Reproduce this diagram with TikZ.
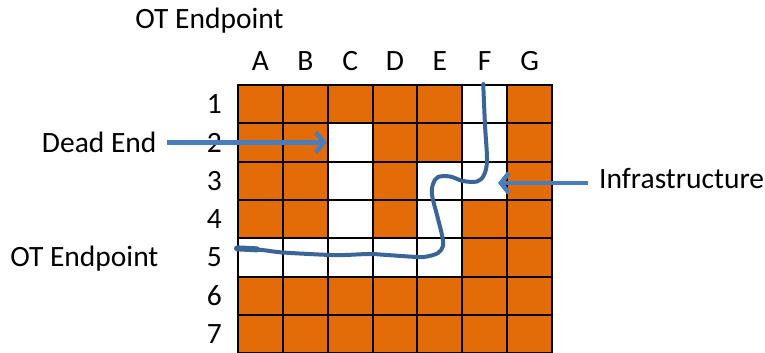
\documentclass[tikz,border=0pt]{standalone}
\usepackage{fontspec}
\setmainfont{Carlito}
\usetikzlibrary{arrows.meta,positioning}
\definecolor{gridorange}{HTML}{E36C09}
\definecolor{arrowblue}{HTML}{4A7EBB}
\definecolor{routeblue}{HTML}{3B6597}
\tikzset{
  open F1/.style={fill=white}, open F2/.style={fill=white}, open C2/.style={fill=white},
  open C3/.style={fill=white}, open E3/.style={fill=white}, open F3/.style={fill=white},
  open C4/.style={fill=white}, open E4/.style={fill=white},
  open A5/.style={fill=white}, open B5/.style={fill=white}, open C5/.style={fill=white},
  open D5/.style={fill=white}, open E5/.style={fill=white}
}

\begin{document}
\begin{tikzpicture}[x=1pt,y=-1pt,
    font=\fontsize{29.5}{34}\selectfont,
    cell/.style={draw=black, line width=2pt, fill=gridorange,
      minimum width=44.86pt, minimum height=38.3pt, inner sep=0pt},
    lbl/.style={inner sep=0pt},
    pointer/.style={draw=arrowblue, line width=4.5pt,
      -{Straight Barb[length=8pt,width=20pt]}},
    route/.style={draw=routeblue, line width=4pt, line cap=round, line join=round}]
    \useasboundingbox (0,0) rectangle (765,353);

    \foreach \c [count=\i from 0] in {A,B,C,D,E,F,G}
      \foreach \r in {1,...,7}
        \node[cell, open \c\r/.try] (\c\r) at ({238+44.86*(\i+0.5)},{85+38.3*(\r-0.5)}) {};
    \foreach \c in {A,B,C,D,E,F,G}
      \node[lbl, above=13pt of \c1] (col\c) {\c};
    \foreach \r in {1,...,7}
      \node[lbl, left=15pt of A\r] (row\r) {\r};

    \node[lbl, anchor=base] (ottop) at (209.5,29) {OT Endpoint};
    \node[lbl, left=50pt of row2] (deadend) {Dead End};
    \node[lbl, left=48pt of row5.base west, anchor=base east] (otleft) {OT Endpoint};
    \node[lbl, anchor=base west] (infra) at (599,188) {Infrastructure};
    \coordinate (infratip) at (498,183);

    \draw[pointer, shorten <=10pt] (deadend.east) -- (deadend.east -| C2.west);
    \draw[pointer, shorten <=11pt] (infratip -| infra.west) -- (infratip);

    \draw[route] plot[smooth, tension=0.55] coordinates {([yshift=9pt]A5.west) (262,250) (283,252.5)
      (330,255) (345,255) (370,254) (387,255) (417,257) (427,256.5) (438,253) (443,246)
      (442,235) (437,215) (432,195) (433,184) (438,177) (450,176.5) (463,181) (477,181.5)
      (484,175) (487,160) (485,125) ([xshift=-1.5pt]F1.north)};
    \draw[route, line width=6pt] ([yshift=9pt]A5.west) -- ++(20,1);
\end{tikzpicture}
\end{document}
